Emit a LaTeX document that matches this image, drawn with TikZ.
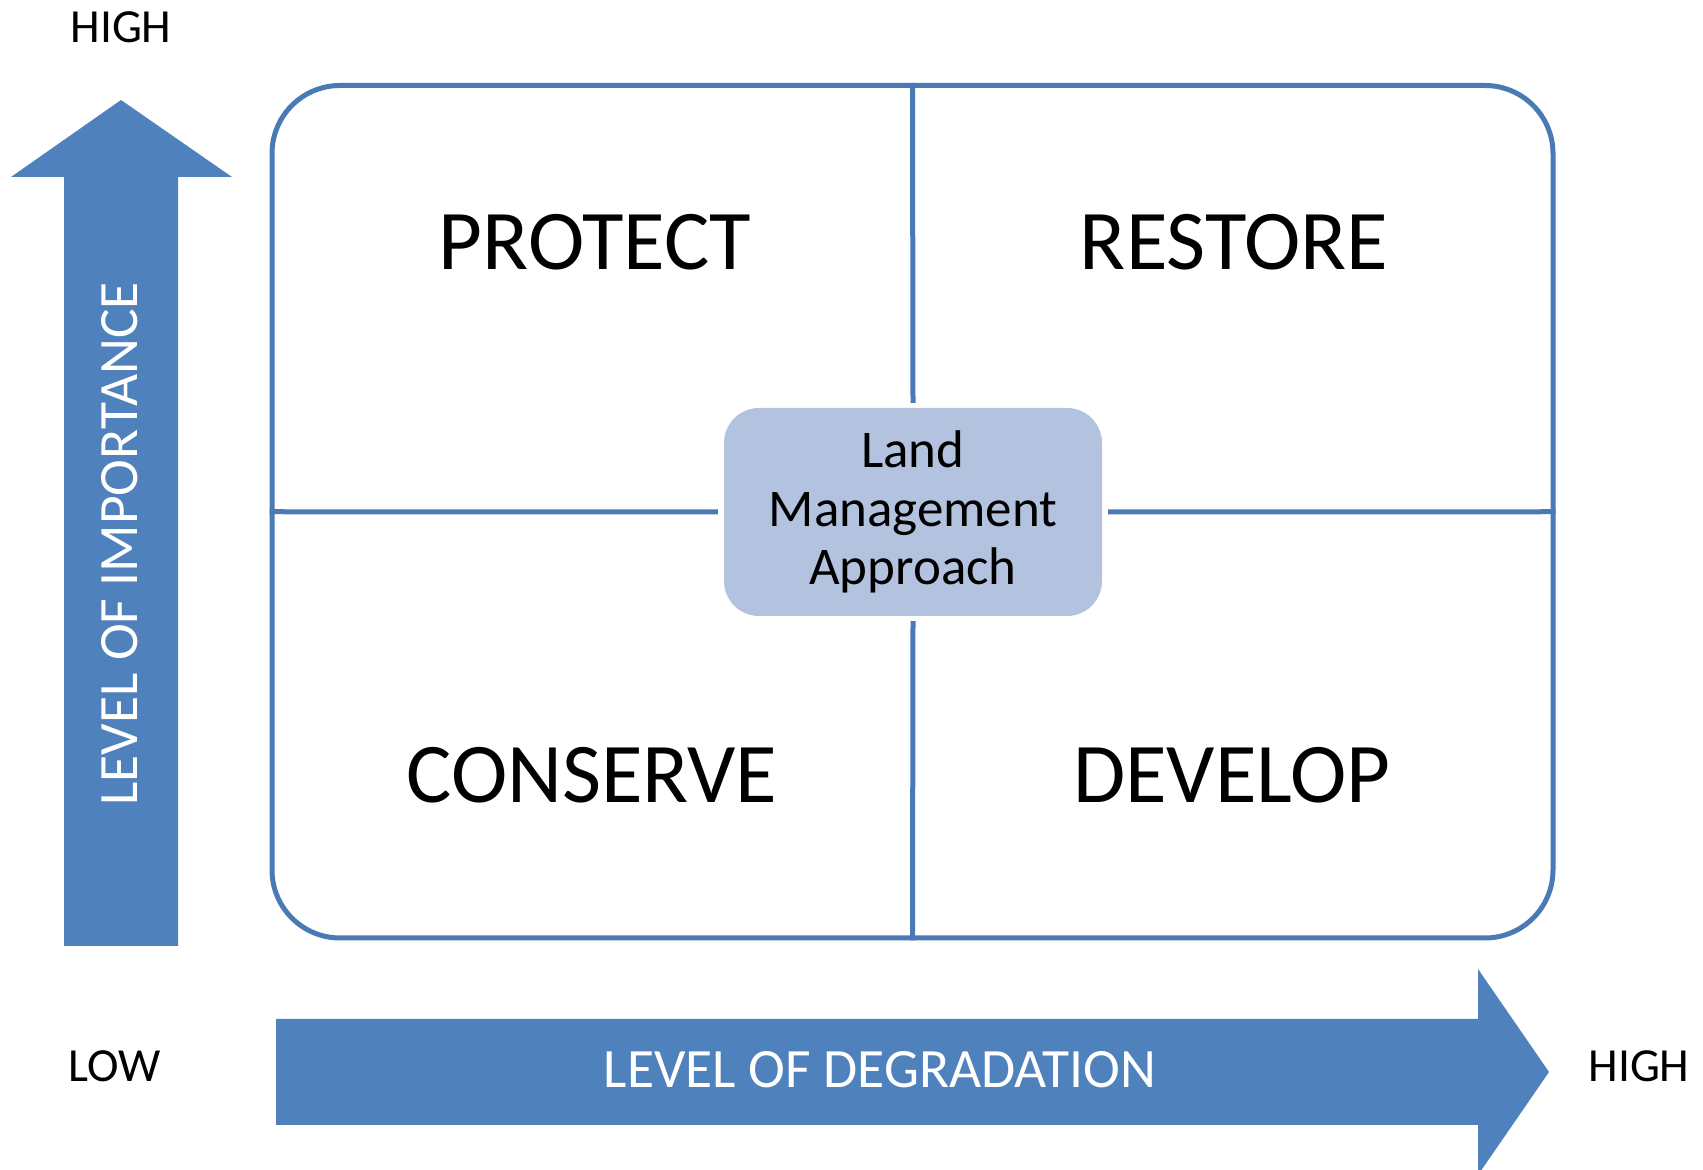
\documentclass[tikz,border=0pt]{standalone}
\usepackage{fontspec}
\setmainfont{Carlito}
\definecolor{arrowblue}{HTML}{4F81BD}
\definecolor{lineblue}{HTML}{4A7AB4}
\definecolor{boxblue}{HTML}{B3C3DF}
\begin{document}
\begin{tikzpicture}[x=1pt,y=1pt,
  framebox/.style={draw=lineblue, line width=5pt, rounded corners=68pt, minimum width=1281pt, minimum height=852.5pt, inner sep=0pt},
  divider/.style={draw=lineblue, line width=5pt},
  bigarrow/.style={fill=arrowblue, draw=none},
  axislabel/.style={font=\fontsize{47.5}{56}\selectfont, inner sep=0pt},
  quadlabel/.style={font=\fontsize{85}{100}\selectfont, inner sep=0pt},
  arrowlabel/.style={font=\fontsize{55.5}{64}\selectfont, text=white, inner sep=0pt},
  centerbox/.style={fill=boxblue, rounded corners=35pt, minimum width=378pt, minimum height=208pt, inner sep=0pt, align=center, font=\fontsize{53}{58.5}\selectfont}]
\useasboundingbox (0,0) rectangle (1703,1170);
% up arrow
\fill[bigarrow] (64,224) -- (64,993) -- (11,993) -- (121,1070) -- (232,993) -- (178,993) -- (178,224) -- cycle;
% right arrow
\fill[bigarrow] (276,151) -- (1478,151) -- (1478,201) -- (1549,98) -- (1478,-5) -- (1478,45) -- (276,45) -- cycle;
% frame
\node[framebox] (frame) at (912.5,658.25) {};
\node[centerbox] (center) at (913,658) {Land\\Management\\Approach};
\draw[divider] (frame.north) -- ([yshift=5pt]center.north);
\draw[divider] (frame.south) -- ([yshift=-5pt]center.south);
\draw[divider] (frame.west) -- ([xshift=-6pt]center.west);
\draw[divider] (frame.east) -- ([xshift=6pt]center.east);
% quadrant labels
\node[quadlabel] (protect) at (595,928) {PROTECT};
\node[quadlabel] (restore) at (1234,928) {RESTORE};
\node[quadlabel] (conserve) at (592,395) {CONSERVE};
\node[quadlabel] (develop) at (1232,395) {DEVELOP};
% axis labels
\node[axislabel] (hightop) at (121,1143) {HIGH};
\node[axislabel] (low) at (114.5,104) {LOW};
\node[axislabel] (highright) at (1639,104) {HIGH};
\node[arrowlabel] (degradation) at (880,100.5) {LEVEL OF DEGRADATION};
\node[arrowlabel, rotate=90] (importance) at (119.5,626) {LEVEL OF IMPORTANCE};
\end{tikzpicture}
\end{document}
